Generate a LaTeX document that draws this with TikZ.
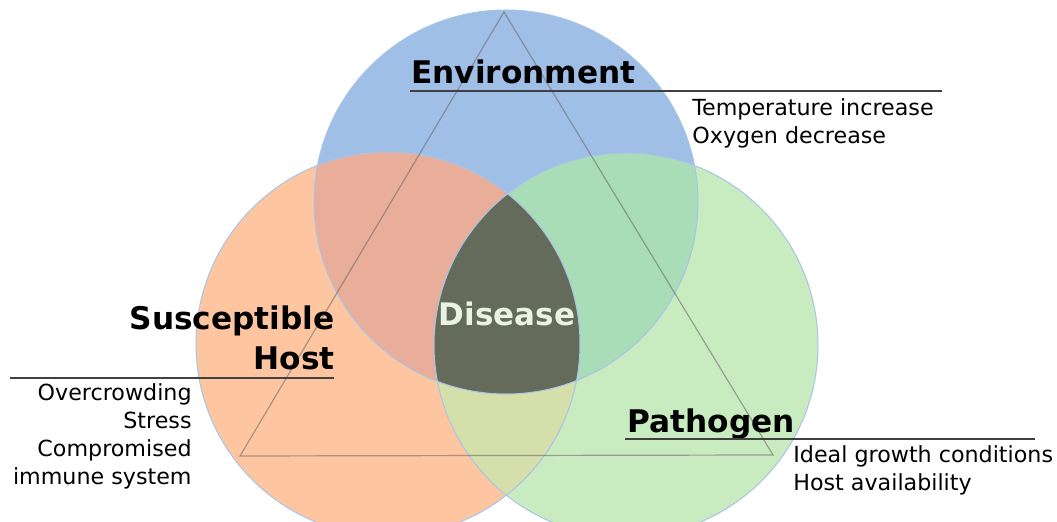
\documentclass[tikz,border=0pt]{standalone}
\usepackage{fontspec}
\setmainfont{DejaVu Sans}
\definecolor{envblue}{HTML}{A0BFE6}
\definecolor{hostorange}{HTML}{FDC6A1}
\definecolor{pathgreen}{HTML}{C8EBC0}
\definecolor{envhost}{HTML}{E8AE99}
\definecolor{envpath}{HTML}{A8DDB8}
\definecolor{hostpath}{HTML}{D4DFA9}
\definecolor{core}{HTML}{656B5A}
\definecolor{coretext}{HTML}{EAF2E1}
\definecolor{ring}{HTML}{A8C4E8}

\begin{document}
\begin{tikzpicture}[x=0.5pt, y=-0.5pt,
    head/.style = {font=\fontsize{15.6}{20}\selectfont\bfseries, inner sep=0pt},
    note/.style = {font=\fontsize{11.1}{14}\selectfont, inner sep=0pt},
    rule/.style = {line width=0.6pt, draw=black!75},
    edge/.style = {line width=0.6pt, draw=black!60, opacity=0.55},
    outline/.style = {line width=0.5pt, draw=ring}]
    \useasboundingbox (0,0) rectangle (1057,522);
    \coordinate (env) at (506,202);
    \coordinate (host) at (388,344);
    \coordinate (path) at (626,345);
    % circles
    \fill[envblue] (env) circle[radius=96pt];
    \fill[hostorange] (host) circle[radius=96pt];
    \fill[pathgreen] (path) circle[radius=96pt];
    \begin{scope}
        \clip (env) circle[radius=96pt];
        \fill[envhost] (host) circle[radius=96pt];
        \fill[envpath] (path) circle[radius=96pt];
    \end{scope}
    \begin{scope}
        \clip (host) circle[radius=96pt];
        \fill[hostpath] (path) circle[radius=96pt];
    \end{scope}
    \begin{scope}
        \clip (env) circle[radius=96pt];
        \clip (host) circle[radius=96pt];
        \fill[core] (path) circle[radius=96pt];
    \end{scope}
    \draw[outline] (env) circle[radius=96pt];
    \draw[outline] (host) circle[radius=96pt];
    \draw[outline] (path) circle[radius=96pt];
    % triangle
    \coordinate (top) at (504,12);
    \coordinate (left) at (240,456);
    \coordinate (right) at (773,455);
    \draw[edge] (top) -- (left) -- (right) -- cycle;
    % labels
    \node[head, anchor=base west] (envlabel) at (411,84) {Environment};
    \coordinate (envrule1) at (410,91);
    \coordinate (envrule2) at (942,91);
    \draw[rule] (envrule1) -- (envrule2);
    \node[note, anchor=north west, align=left] (envnotes) at (692,98)
        {Temperature increase\\Oxygen decrease};
    \node[head, anchor=north east, align=right] (hostlabel) at (335,305)
        {Susceptible\\Host};
    \coordinate (hostrule1) at (10,378);
    \coordinate (hostrule2) at (334,378);
    \draw[rule] (hostrule1) -- (hostrule2);
    \node[note, anchor=north east, align=right] (hostnotes) at (192,383)
        {Overcrowding\\Stress\\Compromised\\immune system};
    \node[head, anchor=base west] (pathlabel) at (627,433) {Pathogen};
    \coordinate (pathrule1) at (625,439);
    \coordinate (pathrule2) at (1035,439);
    \draw[rule] (pathrule1) -- (pathrule2);
    \node[note, anchor=north west, align=left] (pathnotes) at (793,445)
        {Ideal growth conditions\\Host availability};
    \node[head, font=\fontsize{15.5}{18}\selectfont\bfseries, text=coretext, anchor=base] (disease) at (507,326) {Disease};
\end{tikzpicture}
\end{document}
